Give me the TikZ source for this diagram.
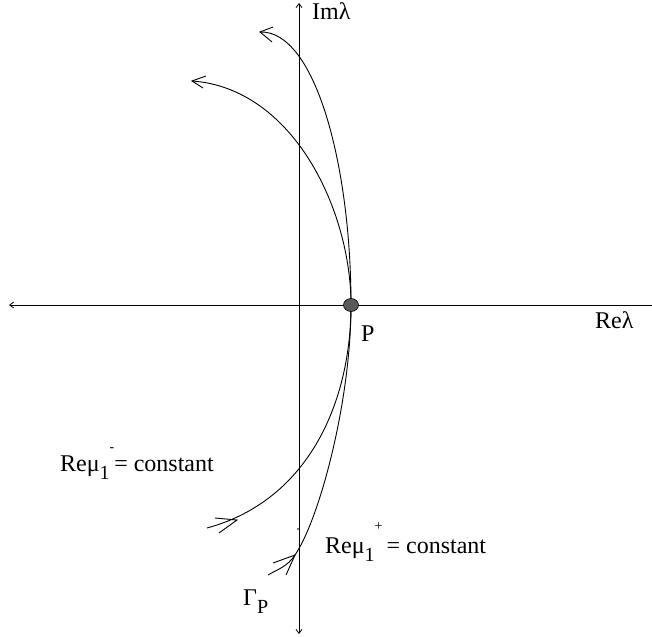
\documentclass[tikz,border=0pt]{standalone}
\usepackage{fontspec}
\setmainfont{Liberation Serif}
\usetikzlibrary{arrows.meta,shapes.geometric}
\newcommand{\subsc}[1]{\raisebox{-8pt}{\fontsize{20}{20}\selectfont #1}}
\newcommand{\supsc}[2]{\raisebox{#1}{\fontsize{14}{14}\selectfont #2}}
\begin{document}
\begin{tikzpicture}[x=1pt,y=-1pt,
  axis/.style={line width=0.8pt},
  curve/.style={line width=0.9pt},
  barb/.style={line width=0.9pt},
  lab/.style={font=\fontsize{24}{28}\selectfont, inner sep=0pt}]
\useasboundingbox (0,0) rectangle (652,636);
% axes
\coordinate (ytop) at (299,3);
\coordinate (ybot) at (299,634);
\coordinate (xleft) at (9,305);
\coordinate (xright) at (652,305);
\draw[axis, {Straight Barb[length=4pt,width=6pt]}-{Straight Barb[length=4pt,width=6pt]}] (ybot) -- (ytop);
\draw[axis, -{Straight Barb[length=4pt,width=6pt]}] (xright) -- (xleft);
% point P position
\coordinate (P) at (351,305);
% curve Re mu^- (inner-left)
\coordinate (s1) at (207,528);
\coordinate (a1) at (192,81);
\draw[curve] (s1) .. controls (310,500) and (351,400) .. (P)
                  .. controls (351,210) and (293,88) .. (a1);
% curve Re mu^+ (Gamma_P)
\coordinate (s2) at (268,575);
\coordinate (m2) at (295,555);
\coordinate (a2) at (260,32);
\draw[curve] (s2) .. controls (278,569) and (287,567) .. (m2)
                  .. controls (320,518) and (351,400) .. (P)
                  .. controls (351,165) and (315,30) .. (a2);
% arrowheads on curves
\coordinate (m1) at (237,520);
\draw[barb] (206,76) -- (a1) -- (203,88);
\draw[barb] (273,27) -- (a2) -- (272,42);
\draw[barb] (215,518) -- (m1) -- (219,533);
\draw[barb] (273,563) -- (m2) -- (286,575);
% tiny dot on axis
\fill (298,529) circle (0.8);
% point P
\node[ellipse, draw=black, fill=black!65, line width=0.6pt, minimum width=15pt, minimum height=13pt, inner sep=0pt] (pt) at (P) {};
% labels
\node[lab, anchor=base west] (im) at (312,20) {Imλ};
\node[lab, anchor=base west] (re) at (595,328) {Reλ};
\node[lab, anchor=base west] (p) at (361,341) {P};
\node[lab, anchor=base east] (lm) at (214,471) {Reμ\subsc{1}\supsc{20pt}{-}= constant};
\node[lab, anchor=base west] (lp) at (325,553) {Reμ\subsc{1}\supsc{23pt}{+}\,= constant};
\node[lab, anchor=base west] (gp) at (243,605) {Γ\subsc{P}};
\end{tikzpicture}
\end{document}
